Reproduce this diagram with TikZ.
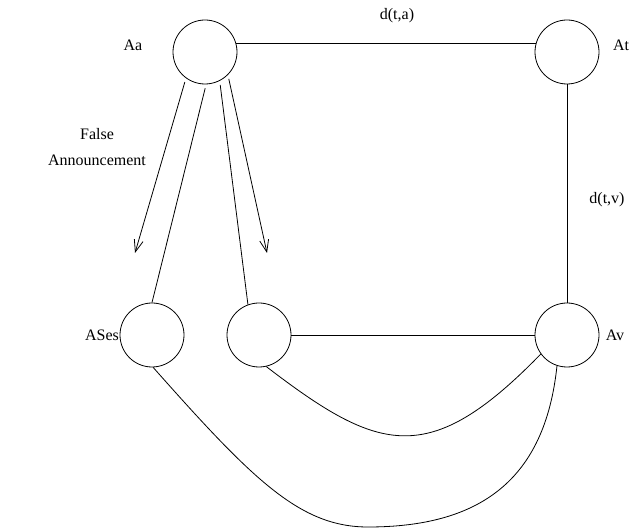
\documentclass[tikz,border=0pt]{standalone}
\usepackage{fontspec}
\setmainfont{Liberation Serif}
\usetikzlibrary{arrows.meta}

\begin{document}
\begin{tikzpicture}[x=1pt,y=-1pt,
    station/.style={circle, draw, line width=0.8pt, minimum size=64pt, inner sep=0pt},
    tag/.style={font=\fontsize{16}{26}\selectfont, inner sep=0pt, align=center},
    link/.style={line width=0.8pt},
    announce/.style={line width=0.8pt, -{Straight Barb[length=12pt,width=9pt]}}]
    \useasboundingbox (0,0) rectangle (641,529);

    % Stations
    \node[station] (Aa) at (205,52) {};
    \node[station] (At) at (567,52) {};
    \node[station] (ASes) at (152,335) {};
    \node[station] (Am) at (259,335) {};
    \node[station] (Av) at (567,335) {};

    % Labels
    \node[tag] (AaLbl) at (133,45) {Aa};
    \node[tag] (AtLbl) at (621,45) {At};
    \node[tag] (ASesLbl) at (102,335) {ASes};
    \node[tag] (AvLbl) at (615,335) {Av};
    \node[tag] (dta) at (397,16) {d(t,a)};
    \node[tag] (dtv) at (607,200) {d(t,v)};
    \node[tag] (fa) at (97,147) {False\\Announcement};

    % Free ends of the announcements
    \coordinate (tipL) at (135,253);
    \coordinate (tipR) at (267,253);

    % Distances
    \draw[link] (Aa.16) -- (At.164);
    \draw[link] (At.-90) -- (Av.90);
    \draw[link] (Am.0) -- (Av.180);

    % Announcements from Aa
    \draw[announce, shorten <=4pt] (Aa.-126) -- (tipL);
    \draw[link, shorten <=4pt] (Aa.-88) -- (ASes.90);
    \draw[link, shorten <=4pt] (Aa.-63) -- (Am.110);
    \draw[announce, shorten <=4pt] (Aa.-45) -- (tipR);

    % Paths back to Av
    \draw[link] (Am.-77) .. controls (379,453) and (429,469) .. (Av.-144);
    \draw[link] (ASes.-88) .. controls (253,480) and (300,527) .. (368,527)
        .. controls (480,527) and (545,480) .. (Av.-108);
\end{tikzpicture}
\end{document}
